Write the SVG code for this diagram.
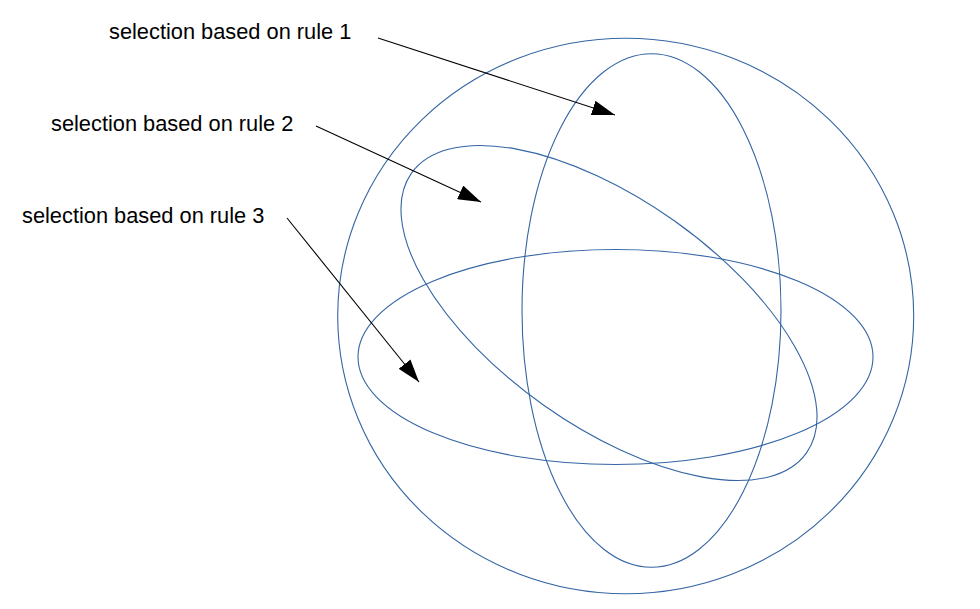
<svg xmlns="http://www.w3.org/2000/svg" width="980" height="609" viewBox="0 0 980 609">
<style>
.shape{fill:none;stroke:#3465a4;stroke-width:1.1}
.lbl{font-family:"Liberation Sans",Arial,sans-serif;font-size:21.8px;fill:#000}
.conn{stroke:#000;stroke-width:1.1;fill:none;marker-end:url(#ah)}
</style>
<defs>
<marker id="ah" viewBox="0 0 23 15" refX="23" refY="7.5" markerWidth="23" markerHeight="15" markerUnits="userSpaceOnUse" orient="auto">
<path d="M0,0 L23,7.5 L0,15 z" fill="#000"/>
</marker>
</defs>
<rect width="980" height="609" fill="#fff"/>
<g id="sphere"><ellipse class="shape" cx="625.7" cy="316" rx="288" ry="277.7"/></g>
<g id="rule1"><ellipse class="shape" cx="651.5" cy="310.5" rx="129.5" ry="256.8"/></g>
<g id="rule2"><ellipse class="shape" cx="609" cy="313" rx="242" ry="113" transform="rotate(35.3 609 313)"/></g>
<g id="rule3"><ellipse class="shape" cx="615.5" cy="357" rx="257.5" ry="107.5"/></g>
<g id="label1"><text class="lbl" x="109" y="39">selection based on rule 1</text></g>
<g id="label2"><text class="lbl" x="51" y="131">selection based on rule 2</text></g>
<g id="label3"><text class="lbl" x="22" y="223">selection based on rule 3</text></g>
<g id="connectors">
<line class="conn" x1="378" y1="38" x2="615" y2="115"/>
<line class="conn" x1="316" y1="126" x2="481" y2="202"/>
<line class="conn" x1="287" y1="218" x2="419" y2="382"/>
</g>
</svg>
